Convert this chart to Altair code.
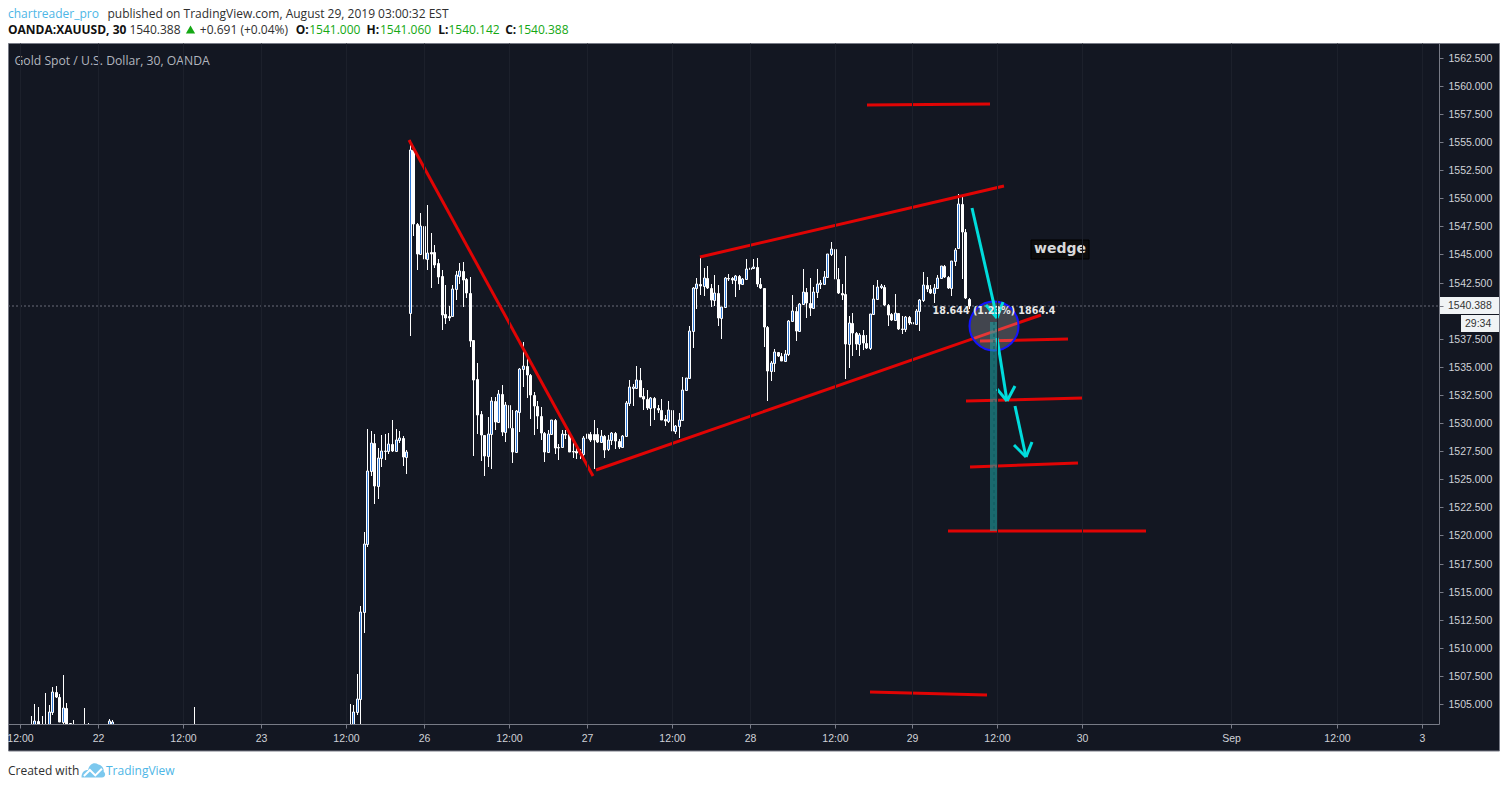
import altair as alt
import pandas as pd

# ---- candles: (open, high, low, close); 1502.5 = below the visible floor
aug21_index = [-89,-88,-87,-86,-85,-84,-83,-82,-81,-80,-79,-78,-77,-74,-73,-70,-67,-66,-43]
aug21_bars = [
 (1502.5,1503.9,1502.5,1502.5),(1502.5,1505.0,1502.5,1503.5),(1503.5,1504.7,1502.5,1502.5),
 (1502.5,1503.9,1502.5,1502.5),(1502.5,1506.0,1502.5,1502.5),(1502.5,1504.9,1502.5,1504.3),
 (1504.3,1506.5,1504.0,1506.1),(1506.1,1506.6,1505.5,1505.6),(1505.6,1505.9,1503.4,1503.4),
 (1503.4,1507.6,1502.5,1504.6),(1504.6,1505.1,1502.5,1502.5),(1503.3,1503.3,1502.5,1502.5),
 (1502.5,1503.6,1502.5,1502.5),(1502.5,1504.6,1502.5,1502.5),(1502.5,1503.3,1502.5,1502.5),
 (1502.5,1503.3,1502.5,1502.5),(1502.5,1503.7,1502.5,1503.5),(1502.5,1503.6,1502.5,1503.4),
 (1502.5,1504.7,1502.5,1502.5),
]
# consecutive bars from index 0 onwards
aug23_bars = [
 (1502.5,1503.5,1502.5,1502.5),(1502.5,1505.0,1502.5,1502.5),(1502.5,1504.9,1502.5,1504.3),
 (1504.3,1507.7,1504.0,1505.4),(1505.4,1513.7,1502.5,1513.2),(1513.2,1520.3,1511.3,1519.2),
 (1519.2,1529.5,1519.0,1525.7),(1525.7,1529.3,1525.3,1528.2),(1528.2,1529.0,1522.8,1524.4),
 (1524.4,1527.8,1523.2,1526.9),(1526.9,1528.9,1526.1,1527.5),(1527.5,1529.0,1526.7,1527.5),
 (1527.5,1529.1,1527.2,1528.1),(1528.1,1530.3,1527.4,1527.5),(1527.5,1529.5,1527.4,1528.5),
 (1528.5,1529.3,1528.2,1528.7),(1528.7,1528.8,1526.2,1527.0),(1527.0,1527.6,1525.5,1527.4),
]
aug26_bars = [
 (1539.8,1555.2,1537.7,1554.3),(1554.3,1554.4,1546.6,1547.7),(1547.7,1547.8,1543.6,1545.0),
 (1545.0,1548.7,1545.0,1547.5),(1547.5,1547.6,1544.5,1544.6),(1544.6,1549.4,1543.6,1545.1),
 (1545.2,1546.9,1542.0,1545.0),(1545.2,1545.8,1543.8,1544.1),(1544.2,1544.6,1542.4,1543.0),
 (1543.1,1543.6,1538.3,1539.6),(1539.7,1542.3,1538.8,1539.3),(1539.5,1540.4,1539.1,1539.3),
 (1539.5,1542.3,1539.4,1541.9),(1541.9,1543.5,1540.9,1543.2),(1543.1,1544.2,1542.4,1543.5),
 (1543.5,1544.3,1540.3,1542.7),(1542.8,1542.9,1541.1,1541.6),(1541.6,1543.0,1536.8,1537.3),
 (1537.4,1537.4,1527.1,1533.8),(1533.9,1535.3,1529.0,1530.7),(1530.8,1531.1,1526.6,1528.9),
 (1528.9,1528.9,1525.3,1527.1),(1527.1,1530.5,1526.1,1529.0),(1529.0,1532.3,1525.9,1532.0),
 (1532.0,1532.3,1529.4,1530.1),(1530.1,1532.9,1530.0,1532.6),(1532.6,1533.4,1528.8,1529.2),
 (1529.2,1531.9,1528.3,1531.6),(1531.6,1532.3,1528.5,1529.6),(1529.6,1531.2,1526.4,1527.4),
 (1527.4,1531.2,1527.3,1531.1),(1531.0,1534.9,1529.2,1534.8),(1534.8,1537.2,1533.2,1535.1),
 (1535.1,1536.1,1532.2,1534.3),(1534.3,1534.4,1530.4,1532.5),(1532.5,1532.8,1528.9,1531.5),
 (1531.5,1532.0,1529.5,1530.6),(1530.6,1531.4,1528.5,1529.1),(1529.1,1529.2,1526.5,1527.4),
 (1527.4,1529.4,1527.3,1529.0),(1529.0,1530.3,1529.0,1530.3),(1530.3,1530.4,1527.2,1527.8),
 (1527.9,1528.1,1526.7,1527.8),(1527.9,1529.4,1527.8,1529.0),(1529.0,1529.4,1528.6,1528.95),
 (1529.0,1529.0,1527.4,1527.4),(1527.5,1528.6,1526.9,1527.4),(1527.5,1528.0,1526.8,1527.3),
 (1527.4,1527.7,1526.8,1527.2),(1527.2,1528.8,1527.0,1528.7),
]
aug27_bars = [
 (1528.7,1529.5,1528.3,1529.0),(1529.0,1529.2,1528.3,1528.5),(1529.0,1530.3,1525.9,1528.5),
 (1529.0,1529.6,1528.2,1528.3),(1528.3,1529.4,1528.2,1528.8),(1528.8,1528.9,1526.9,1527.6),
 (1527.7,1528.9,1527.5,1528.5),(1528.5,1529.2,1528.0,1529.1),(1529.1,1529.2,1527.7,1528.4),
 (1528.4,1528.6,1527.7,1527.9),(1527.9,1528.9,1527.8,1528.8),(1528.8,1532.0,1528.8,1531.8),
 (1531.8,1533.8,1531.5,1533.2),(1533.1,1533.5,1531.5,1533.2),(1533.1,1535.1,1533.0,1533.8),
 (1533.8,1534.9,1532.3,1532.3),(1532.4,1533.1,1531.2,1532.1),(1532.1,1532.9,1531.2,1531.3),
 (1531.3,1532.3,1529.7,1532.2),(1532.2,1532.3,1530.3,1531.3),(1531.3,1531.6,1530.9,1531.2),
 (1531.2,1532.1,1530.3,1530.3),(1530.4,1530.7,1529.7,1530.2),(1530.2,1532.0,1530.0,1531.2),
 (1531.2,1532.8,1529.1,1529.3),(1529.3,1529.8,1529.0,1529.7),(1529.7,1530.9,1528.7,1530.3),
 (1530.3,1534.1,1530.3,1532.9),(1532.9,1534.0,1532.9,1534.0),(1534.0,1538.6,1534.0,1538.2),
 (1538.2,1542.1,1536.7,1542.0),(1542.0,1542.9,1540.1,1542.4),(1542.4,1544.7,1541.4,1542.2),
 (1542.2,1543.8,1541.3,1542.9),(1542.9,1544.0,1541.9,1542.0),(1542.0,1542.4,1540.3,1540.9),
 (1540.9,1543.2,1540.4,1541.6),(1541.6,1542.3,1538.6,1539.3),(1539.3,1540.3,1537.5,1540.3),
 (1540.3,1543.0,1540.2,1542.9),(1542.9,1543.3,1542.6,1542.8),(1542.9,1543.0,1542.4,1542.7),
 (1542.7,1543.2,1541.2,1543.1),(1543.1,1543.2,1541.8,1542.4),(1542.4,1542.9,1542.3,1542.8),
 (1542.8,1544.6,1542.7,1543.7),
]
aug28_bars = [
 (1543.7,1544.5,1543.6,1543.8),(1543.8,1544.6,1543.7,1543.9),(1543.9,1544.7,1542.1,1542.4),
 (1542.4,1542.9,1541.9,1542.0),(1542.0,1542.0,1536.8,1538.5),(1538.5,1538.6,1532.0,1534.6),
 (1534.6,1535.5,1533.7,1535.3),(1535.3,1536.6,1534.5,1536.3),(1536.3,1536.3,1535.9,1536.0),
 (1536.0,1536.2,1535.5,1535.5),(1535.5,1536.5,1535.4,1536.1),(1536.1,1539.2,1536.0,1539.1),
 (1539.1,1541.4,1539.0,1540.0),(1540.0,1540.3,1537.3,1538.2),(1538.2,1540.7,1538.1,1540.6),
 (1540.6,1543.7,1540.5,1541.7),(1541.7,1542.0,1539.3,1540.7),(1540.7,1542.9,1539.5,1540.2),
 (1540.2,1542.1,1540.1,1541.7),(1541.7,1543.7,1541.1,1542.4),(1542.4,1542.7,1541.9,1542.5),
 (1542.4,1543.5,1542.3,1543.0),(1543.0,1545.0,1543.0,1545.0),(1545.0,1546.1,1544.9,1545.45),
 (1545.5,1547.0,1541.7,1542.8),(1542.8,1543.8,1541.5,1541.6),(1541.6,1542.4,1540.9,1541.4),
 (1541.5,1544.9,1533.9,1537.0),(1537.0,1539.5,1534.9,1538.9),(1538.9,1539.8,1536.0,1538.0),
 (1538.0,1538.1,1536.5,1537.0),(1537.0,1538.0,1536.0,1537.8),(1537.8,1538.3,1536.5,1537.1),
 (1537.1,1537.8,1536.6,1536.7),(1536.7,1539.7,1536.5,1539.7),(1539.7,1542.3,1539.6,1541.0),
 (1541.0,1542.7,1540.9,1542.1),(1542.1,1542.4,1541.9,1542.2),(1542.1,1542.3,1540.4,1540.5),
 (1540.5,1540.6,1538.6,1539.6),(1539.7,1539.8,1539.1,1539.2),(1539.2,1541.5,1539.1,1539.8),
 (1539.8,1539.8,1538.3,1538.4),(1538.4,1539.5,1537.9,1538.4),(1538.4,1539.5,1538.1,1539.4),
 (1539.4,1539.5,1538.7,1538.9),
]
aug29_bars = [
 (1539.0,1540.0,1538.7,1538.8),(1538.8,1540.1,1538.7,1540.0),(1540.0,1541.0,1538.2,1540.9),
 (1540.9,1543.4,1540.8,1542.3),(1542.3,1543.0,1541.7,1541.9),(1541.9,1542.3,1541.5,1541.6),
 (1541.6,1542.4,1540.7,1542.0),(1542.0,1543.2,1541.9,1542.9),(1542.9,1544.0,1542.8,1544.0),
 (1544.0,1544.1,1542.9,1543.0),(1543.0,1543.1,1541.9,1542.0),(1542.0,1544.4,1541.3,1544.4),
 (1544.4,1545.6,1544.0,1545.4),(1545.6,1550.4,1545.6,1549.5),(1549.5,1550.2,1542.8,1547.0),
 (1547.0,1547.3,1541.0,1541.1),(1541.06,1541.1,1540.14,1540.39),
]
# drawn lines as (bar, price, bar, price)
red_lines = [
 (17.9,1555.2,69.8,1525.3),(70.6,1525.8,196.3,1539.6),(100.0,1544.8,185.9,1551.1),
 (147.2,1558.3,181.9,1558.4),(148.0,1506.1,181.0,1505.8),(179.1,1537.3,203.9,1537.5),
 (175.1,1532.0,208.2,1532.2),(176.3,1526.1,206.8,1526.4),(170.0,1520.4,226.0,1520.4),
]
cyan_lines = [
 (176.9,1549.1,184.0,1539.3),(180.7,1540.5,184.0,1539.3),(185.6,1540.8,184.0,1539.3),
 (184.0,1537.6,186.8,1532.0),(183.8,1533.0,186.8,1532.0),(189.0,1533.3,186.8,1532.0),
 (189.0,1531.5,192.0,1527.0),(188.8,1528.0,192.0,1527.0),(193.9,1528.3,192.0,1527.0),
]
measure_box = (181.9, 184.3, 1539.0, 1520.4)
measure_mid = 183.1
circle_at = (183.05, 1538.6)
wedge_box = (193.6, 209.8, 1546.3, 1544.6)
wedge_at = (201.7, 1545.5)
measure_label = (183.0, 1540.0, "18.644 (1.23%) 1864.4")
last_price = 1540.388

x_ticks = [-92,-70,-46,-24,0,22,46,68,92,114,138,160,184,208,250,280,304]
x_labels = ["12:00","22","12:00","23","12:00","26","12:00","27","12:00","28","12:00","29","12:00","30","Sep","12:00","3"]
y_ticks = [1505+2.5*i for i in range(24) if i != 14] + [last_price]
X_DOMAIN = [-95.48, 308.76]
Y_DOMAIN = [1503.22, 1563.81]

# ---- tables
rows = list(zip(aug21_index, aug21_bars))
start = 0
for seg in (aug23_bars, aug26_bars, aug27_bars, aug28_bars, aug29_bars):
    rows += [(start+i, b) for i, b in enumerate(seg)]
    start += len(seg)
candles = pd.DataFrame([dict(k=k,o=b[0],h=b[1],l=b[2],c=b[3]) for k,b in rows])
up = candles[candles.c >= candles.o]
down = candles[candles.c < candles.o]
seg_cols = ["a","p","b","q"]
red = pd.DataFrame(red_lines, columns=seg_cols)
cyan = pd.DataFrame(cyan_lines, columns=seg_cols)

BG="#131722"; AX="#787b86"; TXT="#d0d2d8"; GREEN="#14a814"; LINK="#4db6e6"; DARK="#2f2f2f"
HF="Open Sans"

lookup = "{" + ",".join(f"'{k}':'{v}'" for k,v in zip(x_ticks,x_labels)) + "}"
xaxis = alt.Axis(values=x_ticks,title=None,orient="bottom",zindex=1,grid=True,gridColor="#1c202b",
        domainColor=AX,tickColor=AX,tickSize=4,labelColor=TXT,labelFont="Liberation Sans",labelFontSize=10.5,labelPadding=5,
        labelExpr=lookup+"[''+datum.value]",labelOverlap=False,labelFlush=False)
yaxis = alt.Axis(values=y_ticks,title=None,orient="right",zindex=1,grid=False,
        domainColor=AX,tickColor=AX,tickSize=4,labelColor=TXT,labelFont="Liberation Sans",labelFontSize=10.5,labelPadding=5,
        labelExpr=f"datum.value=={last_price}?'':format(datum.value,'.3f')",labelOverlap=False,labelFlush=False)

xs = alt.Scale(domain=X_DOMAIN, nice=False, zero=False, round=True, padding=0)
ys = alt.Scale(domain=Y_DOMAIN, nice=False, zero=False, round=True, padding=0)
X = lambda f: alt.X(f, type="quantitative", scale=xs, axis=xaxis)
Y = lambda f: alt.Y(f, type="quantitative", scale=ys, axis=yaxis)
one = alt.Data(values=[{"v":1}])

def label(t, x, y, size=12, color=DARK, weight="normal", font=HF, align="left"):
    return alt.Chart(alt.Data(values=[{"t":t}])).mark_text(font=font,fontSize=size,color=color,fontWeight=weight,align=align,baseline="middle").encode(
        x=alt.value(x), y=alt.value(y), text="t:N")
def box(x0,x1,y0,y1,fill,**kw):
    return alt.Chart(one).mark_rect(fill=fill,**kw).encode(x=alt.value(x0),x2=alt.value(x1),y=alt.value(y0),y2=alt.value(y1))
TOP=43
def pg(x): return x-8
def pgy(y): return y-TOP

background = box(0.5,pg(1499.5),0.5,pgy(751),BG,stroke=AX,strokeWidth=1)
price_line = alt.Chart(alt.Data(values=[{"p":last_price}])).mark_rule(color="#6a6d78",strokeDash=[2,2],strokeWidth=1).encode(y=Y("p"),x=alt.value(0),x2=alt.value(1431))

wicks = alt.Chart(candles).mark_rule(color="#ffffff",strokeWidth=1,clip=True,xOffset=0.5).encode(x=X("k"),y=Y("h"),y2="l:Q")
body_up = alt.Chart(up).mark_bar(size=2,fill="#3079d6",stroke="#ffffff",strokeWidth=1,clip=True,xOffset=0.5,yOffset=0.5).encode(x=X("k"),y=Y("o"),y2="c:Q")
body_dn = alt.Chart(down).mark_bar(size=2,fill="#ffffff",stroke="#ffffff",strokeWidth=1,clip=True,xOffset=0.5,yOffset=0.5).encode(x=X("k"),y=Y("o"),y2="c:Q")
red_l = alt.Chart(red).mark_rule(color="#e00404",strokeWidth=3).encode(x=X("a"),y=Y("p"),x2="b:Q",y2="q:Q")
cyan_l = alt.Chart(cyan).mark_rule(color="#00dcdc",strokeWidth=3).encode(x=X("a"),y=Y("p"),x2="b:Q",y2="q:Q")
teal = alt.Chart(alt.Data(values=[dict(a=measure_box[0],b=measure_box[1],p=measure_box[2],q=measure_box[3])])).mark_rect(fill="#1fa0a2",opacity=0.6).encode(x=X("a"),x2="b:Q",y=Y("p"),y2="q:Q")
teal_mid = alt.Chart(alt.Data(values=[dict(a=measure_mid,p=measure_box[2],q=measure_box[3])])).mark_rule(color="#0f5a5e",strokeWidth=1,strokeDash=[3,3]).encode(x=X("a"),y=Y("p"),y2="q:Q")
circle = alt.Chart(alt.Data(values=[dict(a=circle_at[0],p=circle_at[1])])).mark_point(shape="circle",size=2400,fill="#ffffff",fillOpacity=0.2,stroke="#1414ff",strokeWidth=2,opacity=1).encode(x=X("a"),y=Y("p"))
meas_t = alt.Chart(alt.Data(values=[dict(a=measure_label[0],p=measure_label[1],t=measure_label[2])])).mark_text(font="DejaVu Sans",fontSize=9.6,fontWeight="bold",color="#e8e8e8",align="center",baseline="middle").encode(x=X("a"),y=Y("p"),text="t:N")
w_box = alt.Chart(alt.Data(values=[dict(a=wedge_box[0],b=wedge_box[1],p=wedge_box[2],q=wedge_box[3])])).mark_rect(fill="#0c0c0c",stroke="#000000").encode(x=X("a"),x2="b:Q",y=Y("p"),y2="q:Q")
w_t = alt.Chart(alt.Data(values=[dict(a=wedge_at[0],p=wedge_at[1],t="wedge")])).mark_text(font="DejaVu Sans",fontSize=14,fontWeight="bold",color="#d8d8d8",align="center",baseline="middle").encode(x=X("a"),y=Y("p"),text="t:N")

price_box = box(pg(1439),pg(1499),pgy(297),pgy(314),"#f0f3f5")
clock_box = box(pg(1461),pg(1499),pgy(315),pgy(332),"#f0f3f5")
price_t = label("1540.388",pg(1448),pgy(305.5),10.5,"#333333",font="Liberation Sans")
clock_t = label("29:34",pg(1465),pgy(323.5),10.5,"#333333",font="Liberation Sans")

tri = alt.Chart(one).mark_point(shape="triangle-up",filled=True,fill=GREEN,size=85,opacity=1).encode(x=alt.value(pg(190.5)),y=alt.value(pgy(29.5)))
cloud = alt.Chart(one).mark_point(filled=True,opacity=1,fill="#7cc8ee",size=576,
    shape="M-1,0.62 C-1.0,0.15 -0.7,0 -0.45,0 C-0.35,-0.55 0.1,-0.7 0.4,-0.45 C0.7,-0.4 0.9,-0.1 0.85,0.15 C1.05,0.3 1,0.62 0.7,0.62 Z").encode(x=alt.value(pg(93.5)),y=alt.value(pgy(770)))
zig = alt.Chart(one).mark_point(filled=False,opacity=1,stroke="#ffffff",strokeWidth=2,size=576,
    shape="M-0.8,0.5 L-0.3,0.0 L0.15,0.45 L0.7,-0.1").encode(x=alt.value(pg(93.5)),y=alt.value(pgy(770)))

BOLD=dict(color="#111111",weight="bold",size=12)
texts = [
 label("chartreader_pro",pg(8),pgy(14),color=LINK),
 label("published on TradingView.com, August 29, 2019 03:00:32 EST",pg(107.5),pgy(14)),
 label("OANDA:XAUUSD, 30",pg(8),pgy(29.5),**BOLD),
 label("1540.388",pg(129.4),pgy(29.5)),
 label("+0.691 (+0.04%)",pg(199.8),pgy(29.5)),
 label("O:",pg(295.8),pgy(29.5),**BOLD),
 label("1541.000",pg(309.2),pgy(29.5),color=GREEN),
 label("H:",pg(366.6),pgy(29.5),**BOLD),
 label("1541.060",pg(380),pgy(29.5),color=GREEN),
 label("L:",pg(438.2),pgy(29.5),**BOLD),
 label("1540.142",pg(448.5),pgy(29.5),color=GREEN),
 label("C:",pg(505.2),pgy(29.5),**BOLD),
 label("1540.388",pg(517.4),pgy(29.5),color=GREEN),
 label("Gold Spot / U.S. Dollar, 30, OANDA",pg(14.5),pgy(60.5),size=12.2,color="#b2b5be"),
 label("Created with",pg(8),pgy(771)),
 label("TradingView",pg(106),pgy(771),color=LINK),
]

chart = alt.layer(
    background, price_line, wicks, body_up, body_dn, red_l, circle, teal, teal_mid, cyan_l, meas_t, w_box, w_t,
    price_box, clock_box, price_t, clock_t, tri, cloud, zig, *texts
).properties(
    width=1431, height=681, padding={"left":0,"top":35,"right":61,"bottom":59},
    autosize=alt.AutoSizeParams(type="none"), background="#ffffff"
).configure_view(stroke=None,fill=None)

chart.save("out.html", embed_options={"renderer": "svg", "actions": False})
